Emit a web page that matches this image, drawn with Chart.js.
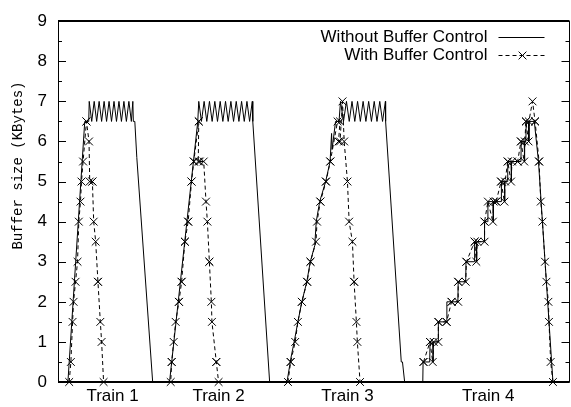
<!DOCTYPE html>
<html>
<head>
<meta charset="utf-8">
<script src="https://cdn.jsdelivr.net/npm/chart.js@4"></script>
<style>
html, body { margin: 0; padding: 0; overflow: hidden; background: #fff; }
#wrap { width: 576px; height: 407px; }
</style>
</head>
<body>
<div id="wrap"><canvas id="myChart"></canvas></div>
<script>
// x axis: one label per train, placed in the same time units as the data
var trainLabels = ['Train 1', 'Train 2', 'Train 3', 'Train 4'];
var trainPos = [55, 162, 292, 434];
var yTicks = [0, 1, 2, 3, 4, 5, 6, 7, 8, 9];

// buffer size (KBytes) without buffer control, [time, size]
var noCtrl1 = [[10,0],[27,6.5],[31,6.5],[31.5,7],[34,6.5],[36.5,7],[39,6.5],[41.5,7],[44,6.5],[46.5,7],[49,6.5],[51.5,7],[54,6.5],[56.5,7],[59,6.5],[61.5,7],[64,6.5],[66.5,7],[69,6.5],[71.5,7],[74,6.5],[75.5,7],[76,6.5],[77.5,6.5],[79.5,5.6],[95.5,0]];
var noCtrl2 = [[112.5,0],[141,6.5],[142,7],[144.7,6.5],[147.4,7],[150.1,6.5],[152.8,7],[155.5,6.5],[158.2,7],[160.9,6.5],[163.6,7],[166.3,6.5],[169,7],[171.7,6.5],[174.4,7],[177.1,6.5],[179.8,7],[182.5,6.5],[185.2,7],[187.9,6.5],[190.6,7],[193.3,6.5],[196,7],[196.5,6.5],[213.5,0]];
var noCtrl3 = [[231,0],[235,0.6],[239,1.1],[242,1.5],[246,2],[251,2.5],[254.5,3],[259,3.4],[260.5,4],[264,4.5],[270,5],[274.5,5.5],[276,6.2],[276.5,5.8],[280,6.5],[283.5,6.5],[285,7],[288,6.5],[291,7],[293.8,6.5],[296.6,7],[299.4,6.5],[302.2,7],[305,6.5],[307.8,7],[310.6,6.5],[313.4,7],[316.2,6.5],[319,7],[321.8,6.5],[324.6,7],[327.4,6.5],[330.3,7],[330.5,6.5],[346.3,0.5],[347.5,0.5],[349.7,0]];
var noCtrl4 = [[368,0],[368.3,0.5],[375,0.5],[375.3,1],[378,1],[378.3,0.5],[378.6,1],[383.4,1],[383.7,1.5],[392,1.5],[392.3,2],[403.4,2],[403.7,2.5],[411.3,2.5],[411.6,3],[420,3],[420.3,3.5],[422,3.5],[422.3,3],[422.6,3.5],[430,3.5],[430.3,4],[433.4,4],[433.7,4.5],[438.7,4.5],[439,4],[439.3,4.5],[447,4.5],[447.3,5],[450.3,5],[450.6,4.5],[450.9,5],[453.4,5],[453.7,5.5],[457,5.5],[457.3,5],[457.6,5.5],[467,5.5],[467.3,6],[470.3,6],[470.6,5.5],[470.9,6],[472,6],[472.3,6.5],[474.7,6.5],[475,6],[475.3,6.5],[480.5,6.5],[484.7,5.5],[499.3,0]];

// buffer size (KBytes) with buffer control, [time, size]
var withCtrl1 = [[11.3,0],[13,0.5],[14.7,1.5],[15.7,2],[17.7,2.5],[19.7,3],[21,4],[22.7,4.5],[23.7,5],[25.3,5.5],[28.7,6.5],[28.7,6.5],[31.3,6],[32,5],[34.7,5],[34.7,5],[36,4],[38,3.5],[40.3,2.5],[40.3,2.5],[42.7,1.5],[44,1],[46,0]];
var withCtrl2 = [[113.7,0],[114.7,0.5],[114.7,0.5],[116.7,1],[118.7,1.5],[122,2],[122,2],[124.7,2.5],[124.7,2.5],[128,3.5],[128,3.5],[131.3,4],[131.3,4],[134.7,5],[134.7,5],[137,5.5],[137,5.5],[142,6.5],[142,6.5],[141.5,5.5],[143,5.5],[147,5.5],[149.3,4.5],[150.7,4],[152.7,3],[152.7,3],[154.7,2],[155.3,1.5],[159.7,0.5],[159.7,0.5],[162,0]];
var withCtrl3 = [[232,0],[234.7,0.5],[234.7,0.5],[239.3,1],[242,1.5],[246,2],[246,2],[251.3,2.5],[251.3,2.5],[254.7,3],[254.7,3],[260.3,3.5],[261.3,4],[264.7,4.5],[264.7,4.5],[270.3,5],[270.3,5],[274.7,5.5],[274.7,5.5],[282,6.5],[284.5,6.5],[283,6],[284.5,6],[287,7],[288.7,6],[292,5],[293.7,4],[297,3.5],[298.7,2.5],[298.7,2.5],[301,1.5],[302,1],[304.7,0]];
var withCtrl4 = [[368.7,0.5],[368.7,0.5],[375.3,1],[375.3,1],[378,0.5],[379,1],[383.7,1],[383.7,1.5],[383.7,1.5],[392,1.5],[392,1.5],[397,2],[397,2],[403.7,2],[403.7,2.5],[403.7,2.5],[411.3,2.5],[412,3],[412,3],[420.3,3.5],[420.3,3.5],[422,3],[423,3.5],[430.3,3.5],[430.3,4],[430.3,4],[433.7,4.5],[438.7,4],[439.5,4.5],[442,4.5],[442,4.5],[447,5],[447,5],[450.3,4.5],[451,5],[453.7,5.5],[453.7,5.5],[457,5],[458,5.5],[463.7,5.5],[463.7,5.5],[467,6],[467,6],[470.3,5.5],[471,6],[472,6.5],[472,6.5],[474.7,6],[475,6.5],[478.7,7],[481.3,6.5],[481.3,6.5],[485.3,5.5],[485.3,5.5],[487,4.5],[488.7,4],[491.3,3],[492.7,2.5],[494.7,2],[495.3,1.5],[497,0.5],[499.3,0]];

function toPoints(list) {
    return list.map(function(p) { return {x: p[0], y: p[1]}; });
}

var noCtrl = toPoints([].concat(noCtrl1, noCtrl2, noCtrl3, noCtrl4));
// break the dashed line between the third and fourth train
var withCtrl = toPoints([].concat(withCtrl1, withCtrl2, withCtrl3)).concat([{x: 335, y: null}], toPoints(withCtrl4));

var fontFamily = '"Liberation Sans", Arial, Helvetica, sans-serif';

// gnuplot style frame with tics pointing into the plot
var frameTicks = {
    id: 'frameTicks',
    beforeDatasetsDraw: function(chart) {
        var ctx = chart.ctx, a = chart.chartArea, ys = chart.scales.y;
        ctx.save();
        ctx.strokeStyle = '#000';
        ctx.lineWidth = 1;
        ctx.beginPath();
        yTicks.forEach(function(v) {
            [v, v + 0.5].forEach(function(t) {
                if (t > 9) return;
                var py = Math.round(ys.getPixelForValue(t)) + 0.5;
                var len = (t === v) ? 8 : 4;
                ctx.moveTo(a.left, py); ctx.lineTo(a.left + len, py);
                ctx.moveTo(a.right, py); ctx.lineTo(a.right - len, py);
            });
        });
        ctx.moveTo(Math.round(a.left) + 0.5, a.top);
        ctx.lineTo(Math.round(a.left) + 0.5, a.bottom);
        ctx.moveTo(Math.round(a.right) - 0.5, a.top);
        ctx.lineTo(Math.round(a.right) - 0.5, a.bottom);
        ctx.stroke();
        ctx.lineWidth = 2;
        ctx.beginPath();
        ctx.moveTo(a.left, Math.round(a.top));
        ctx.lineTo(a.right, Math.round(a.top));
        ctx.moveTo(a.left, Math.round(a.bottom));
        ctx.lineTo(a.right, Math.round(a.bottom));
        ctx.stroke();
        ctx.restore();
    }
};

// y label in a typewriter face, sitting a little above the middle
var yTitle = {
    id: 'yTitle',
    afterDraw: function(chart) {
        var ctx = chart.ctx, a = chart.chartArea;
        ctx.save();
        ctx.translate(a.left - 40, a.top + (a.bottom - a.top) * 0.4);
        ctx.rotate(-Math.PI / 2);
        ctx.font = '14px "Liberation Mono", "Courier New", monospace';
        ctx.fillStyle = '#000';
        ctx.textAlign = 'center';
        ctx.textBaseline = 'middle';
        ctx.fillText('Buffer size (KBytes)', 0, 0);
        ctx.restore();
    }
};

// key in the top right corner: text first, sample line after it
var keyBox = {
    id: 'keyBox',
    afterDatasetsDraw: function(chart) {
        var ctx = chart.ctx, a = chart.chartArea;
        chart.data.datasets.forEach(function(ds, i) {
            var y = Math.round(a.top + 16 + i * 18) + 0.5;
            var xr = a.right - 82;
            ctx.save();
            ctx.font = '17px ' + fontFamily;
            ctx.fillStyle = '#000';
            ctx.textAlign = 'right';
            ctx.textBaseline = 'middle';
            ctx.fillText(ds.label, xr, y);
            ctx.strokeStyle = ds.borderColor;
            ctx.lineWidth = ds.borderWidth;
            ctx.setLineDash(ds.borderDash || []);
            ctx.beginPath();
            ctx.moveTo(xr + 11, y);
            ctx.lineTo(xr + 57, y);
            ctx.stroke();
            if (ds.pointRadius) {
                var r = ds.pointRadius * Math.SQRT1_2;
                var cx = xr + 35;
                ctx.setLineDash([]);
                ctx.beginPath();
                ctx.moveTo(cx - r, y - r); ctx.lineTo(cx + r, y + r);
                ctx.moveTo(cx - r, y + r); ctx.lineTo(cx + r, y - r);
                ctx.stroke();
            }
            ctx.restore();
        });
    }
};

var ctx = document.getElementById('myChart');
var graphData = {
    type: 'line',
    data: {
        datasets: [{
            label: 'Without Buffer Control',
            data: noCtrl,
            borderColor: '#000',
            borderWidth: 1,
            pointRadius: 0,
            tension: 0,
            fill: false,
            clip: false,
            order: 1
        }, {
            label: 'With Buffer Control',
            data: withCtrl,
            borderColor: '#000',
            borderWidth: 1,
            borderDash: [4, 3],
            pointStyle: 'crossRot',
            pointRadius: 5.5,
            pointBorderColor: '#000',
            pointBorderWidth: 1,
            pointBackgroundColor: 'rgba(0,0,0,0)',
            tension: 0,
            fill: false,
            clip: false,
            order: 0
        }]
    },
    options: {
        responsive: true,
        maintainAspectRatio: false,
        animation: false,
        events: [],
        layout: { padding: { top: 17, right: 2, left: 0, bottom: 0 } },
        plugins: {
            legend: { display: false },
            tooltip: { enabled: false }
        },
        scales: {
            x: {
                type: 'linear',
                min: 0,
                max: 516,
                grid: { display: false, drawTicks: false },
                border: { display: false },
                afterBuildTicks: function(scale) {
                    scale.ticks = trainPos.map(function(v) { return {value: v}; });
                },
                afterFit: function(scale) { scale.height = 25; },
                ticks: {
                    autoSkip: false,
                    maxRotation: 0,
                    padding: 4,
                    color: '#000',
                    font: { family: fontFamily, size: 17 },
                    callback: function(value) { return trainLabels[trainPos.indexOf(value)]; }
                }
            },
            y: {
                min: 0,
                max: 9,
                grid: { display: false, drawTicks: false },
                border: { display: false },
                afterFit: function(scale) { scale.width = 58; },
                ticks: {
                    stepSize: 1,
                    padding: 11,
                    color: '#000',
                    font: { family: fontFamily, size: 17 }
                }
            }
        }
    },
    plugins: [frameTicks, keyBox, yTitle]
};
var myChart = new Chart(ctx, graphData);
</script>
</body>
</html>
